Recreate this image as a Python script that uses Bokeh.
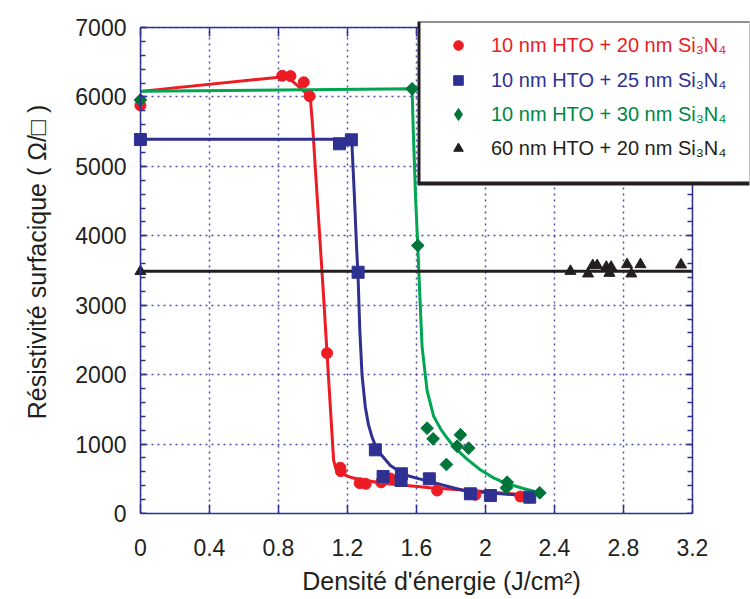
import math
from bokeh.plotting import figure
from bokeh.models import (Range1d, LinearAxis, FixedTicker, BoxAnnotation,
                          Legend, LegendItem)
from bokeh.embed import file_html
from bokeh.resources import INLINE

# ---------------- data ----------------
red_label = "10 nm HTO + 20 nm Si\u2083N\u2084"
blue_label = "10 nm HTO + 25 nm Si\u2083N\u2084"
green_label = "10 nm HTO + 30 nm Si\u2083N\u2084"
black_label = "60 nm HTO + 20 nm Si\u2083N\u2084"

red_x = [0, 0.822, 0.870, 0.947, 0.981, 1.082, 1.159, 1.162, 1.271, 1.306, 1.395, 1.449, 1.720, 1.942, 2.203, 2.250]
red_y = [5877, 6305, 6300, 6212, 6010, 2310, 660, 610, 437, 428, 450, 504, 331, 270, 245, 230]

blue_x = [0, 1.154, 1.223, 1.262, 1.362, 1.407, 1.513, 1.511, 1.675, 1.913, 2.029, 2.257]
blue_y = [5387, 5325, 5382, 3475, 917, 533, 572, 475, 500, 284, 259, 235]

green_x = [0, 1.575, 1.608, 1.662, 1.697, 1.774, 1.836, 1.855, 1.903, 2.122, 2.126, 2.315]
green_y = [5958, 6117, 3860, 1229, 1076, 706, 969, 1134, 941, 370, 451, 298]

black_x = [0, 2.493, 2.595, 2.622, 2.648, 2.701, 2.719, 2.729, 2.821, 2.846, 2.899, 3.134]
black_y = [3487, 3490, 3453, 3573, 3573, 3550, 3462, 3550, 3587, 3453, 3587, 3583]

# fitted curves
red_fit_x = [0, 0.85, 0.985, 1.0, 1.06, 1.12, 1.13, 1.145, 1.16, 1.19, 1.217, 1.26, 1.314, 1.39, 1.68, 1.97, 2.25]
red_fit_y = [6080, 6295, 6000, 5520, 3200, 770, 670, 610, 580, 550, 523, 498, 475, 440, 370, 320, 265]

blue_fit_x = [0, 1.225, 1.24, 1.252, 1.262, 1.272, 1.285, 1.304, 1.322, 1.343, 1.365, 1.391, 1.449, 1.50, 1.546, 1.60, 1.662, 1.75, 1.874, 2.05, 2.25]
blue_fit_y = [5390, 5390, 4600, 3900, 3400, 2640, 1990, 1530, 1280, 1100, 960, 860, 690, 610, 547, 510, 470, 410, 331, 290, 255]

green_fit_x = [0, 1.575, 1.582, 1.596, 1.608, 1.618, 1.633, 1.662, 1.70, 1.74, 1.78, 1.82, 1.89, 1.97, 2.05, 2.12, 2.22, 2.315]
green_fit_y = [6080, 6117, 5500, 4500, 3860, 3250, 2400, 1770, 1400, 1220, 1080, 955, 790, 630, 510, 435, 360, 300]

black_fit_x = [0, 3.2]
black_fit_y = [3490, 3490]

x_min, x_max = 0, 3.2
y_min, y_max = 0, 7000
x_ticks = [0, 0.4, 0.8, 1.2, 1.6, 2.0, 2.4, 2.8, 3.2]
x_tick_labels = ["0", "0.4", "0.8", "1.2", "1.6", "2", "2.4", "2.8", "3.2"]
y_ticks = [0, 1000, 2000, 3000, 4000, 5000, 6000, 7000]
y_tick_labels = ["0", "1000", "2000", "3000", "4000", "5000", "6000", "7000"]
y_minor = [v for v in range(0, 7001, 200)]

# ---------------- style ----------------
RED = "#ed1c24"
BLUE = "#2e3192"
GREEN_LINE = "#00a651"
GREEN_MK = "#00753a"
GREEN_TXT = "#008745"
BLACK = "#231f20"
AX = "#2e3192"
FONT = "Liberation Sans"

# frame geometry: the frame is a little larger than the plotted box so that
# the legend box (which overhangs the box in the reference) and the markers
# at x = 0 are not clipped
PX_X = 172.5            # px per J/cm2
PX_Y = 486 / 7000.0     # px per ohm/sq
FW, FH = 616, 503
X0 = -0.04
Y1 = FH / PX_Y

p = figure(frame_width=FW, frame_height=FH,
           x_range=Range1d(X0, X0 + FW / PX_X), y_range=Range1d(0, Y1),
           output_backend="svg", toolbar_location=None,
           min_border_left=133, min_border_right=1, min_border_top=10, min_border_bottom=86)
p.background_fill_color = "white"
p.border_fill_color = "white"
p.outline_line_color = None

# grids
p.xgrid.ticker = FixedTicker(ticks=x_ticks)
p.ygrid.ticker = FixedTicker(ticks=y_ticks)
for g in (p.xgrid[0], p.ygrid[0]):
    g.grid_line_color = AX
    g.grid_line_dash = "2 4"
    g.grid_line_width = 1.5
    g.grid_line_alpha = 0.85

# white masks outside the plotted box (under the glyphs, over the grid)
for kw in ({"right": x_min}, {"left": x_max}, {"bottom": y_max}):
    p.add_layout(BoxAnnotation(fill_color="white", fill_alpha=1, line_alpha=0,
                               level="underlay", **kw))

# bottom axis
xa = p.xaxis[0]
xa.ticker = FixedTicker(ticks=x_ticks)
xa.bounds = (x_min, x_max)
xa.major_label_overrides = {t: l for t, l in zip(x_ticks, x_tick_labels)}
xa.axis_label = "Densité d'énergie (J/cm\u00b2)"

# left axis: labels only (sits at the frame edge)
ya = p.yaxis[0]
ya.ticker = FixedTicker(ticks=y_ticks)
ya.bounds = (y_min, y_max)
ya.major_label_overrides = {t: l for t, l in zip(y_ticks, y_tick_labels)}
ya.axis_label = "Résistivité surfacique ( \u03a9/\u25a1 )"

# box edges at x=0, x=3.2 and y=7000 (line + ticks only)
la = LinearAxis(ticker=FixedTicker(ticks=y_ticks, minor_ticks=y_minor),
                fixed_location=x_min, bounds=(y_min, y_max))
la.major_label_overrides = {t: "" for t in y_ticks}
ra = LinearAxis(ticker=FixedTicker(ticks=y_ticks, minor_ticks=y_minor),
                fixed_location=x_max, bounds=(y_min, y_max))
ra.major_label_overrides = {t: "" for t in y_ticks}
ta = LinearAxis(ticker=FixedTicker(ticks=x_ticks), fixed_location=y_max,
                bounds=(x_min, x_max))
ta.major_label_overrides = {t: "" for t in x_ticks}
p.add_layout(la, "left")
p.add_layout(ra, "right")
p.add_layout(ta, "above")

for ax in (xa, ya, la, ra, ta):
    ax.axis_line_color = AX
    ax.axis_line_width = 1.5
    ax.major_tick_line_color = AX
    ax.minor_tick_line_color = AX
    ax.major_tick_line_width = 1.5
    ax.minor_tick_line_width = 1.5
    ax.major_tick_out = 0
    ax.minor_tick_out = 0
    ax.major_label_text_font = FONT
    ax.major_label_text_color = BLACK
    ax.axis_label_text_font = FONT
    ax.axis_label_text_font_style = "normal"
    ax.axis_label_text_color = BLACK

ya.axis_line_color = None
ya.major_tick_line_color = None
ya.minor_tick_line_color = None

xa.major_tick_in = 9
xa.minor_tick_in = 0
ta.major_tick_in = 9
ta.minor_tick_in = 0
la.major_tick_in = 6
la.minor_tick_in = 5
ra.major_tick_in = 6
ra.minor_tick_in = 5

xa.major_label_text_font_size = "23px"
ya.major_label_text_font_size = "23px"
xa.axis_label_text_font_size = "25px"
ya.axis_label_text_font_size = "25px"
xa.major_label_standoff = 25
ya.major_label_standoff = 7
xa.axis_label_standoff = 8
ya.axis_label_standoff = 21
for ax in (la, ra, ta):
    ax.major_label_text_font_size = "1px"
    ax.major_label_standoff = 0

# fitted lines
p.line(red_fit_x, red_fit_y, line_color=RED, line_width=3, line_join="round")
p.line(blue_fit_x, blue_fit_y, line_color=BLUE, line_width=3, line_join="round")
p.line(green_fit_x, green_fit_y, line_color=GREEN_LINE, line_width=3, line_join="round")
p.line(black_fit_x, black_fit_y, line_color=BLACK, line_width=3)

# points
r_red = p.scatter(red_x, red_y, marker="circle", size=11, fill_color=RED, line_color=RED)
r_blue = p.scatter(blue_x, blue_y, marker="square", size=12, fill_color=BLUE, line_color=BLUE)
r_green = p.scatter(green_x, green_y, marker="square", size=9, angle=math.pi / 4,
                    fill_color=GREEN_MK, line_color=GREEN_MK)
r_black = p.scatter(black_x, black_y, marker="triangle", size=11, fill_color=BLACK, line_color=BLACK)
# hidden twin of the diamond series, used only for its legend glyph
# (legend glyphs ignore the marker angle)
r_green_leg = p.scatter(green_x, green_y, marker="diamond", size=12, visible=False,
                        fill_color=GREEN_MK, line_color=GREEN_MK)

# legend box with offset shadow (screen units, relative to the frame's bottom-left)
LX = 287
shadow = BoxAnnotation(left=LX - 3, right=LX + 500, top=492, bottom=328,
                       left_units="screen", right_units="screen",
                       top_units="screen", bottom_units="screen",
                       fill_color=BLACK, fill_alpha=1, line_alpha=0)
box = BoxAnnotation(left=LX, right=LX + 500, top=491, bottom=332,
                    left_units="screen", right_units="screen",
                    top_units="screen", bottom_units="screen",
                    fill_color="white", fill_alpha=1, line_alpha=0)
p.add_layout(shadow)
p.add_layout(box)

# (label, text colour, renderer, bottom y, glyph box size)
entries = [(red_label, RED, r_red, 456, 24), (blue_label, BLUE, r_blue, 421, 24),
           (green_label, GREEN_TXT, r_green_leg, 384, 30), (black_label, BLACK, r_black, 353, 24)]
for lab, col, rend, yb, gs in entries:
    d = (gs - 24) // 2
    leg = Legend(items=[LegendItem(label=lab, renderers=[rend])], location=(LX + 26 - d, yb),
                 padding=0, margin=0, spacing=0, glyph_width=gs, glyph_height=gs,
                 label_height=gs, label_standoff=21 - d, label_text_font=FONT,
                 label_text_font_size="20px", label_text_color=col,
                 background_fill_alpha=0, border_line_alpha=0,
                 inactive_fill_alpha=0)
    p.add_layout(leg)

open("out.html", "w").write(file_html(p, INLINE))
